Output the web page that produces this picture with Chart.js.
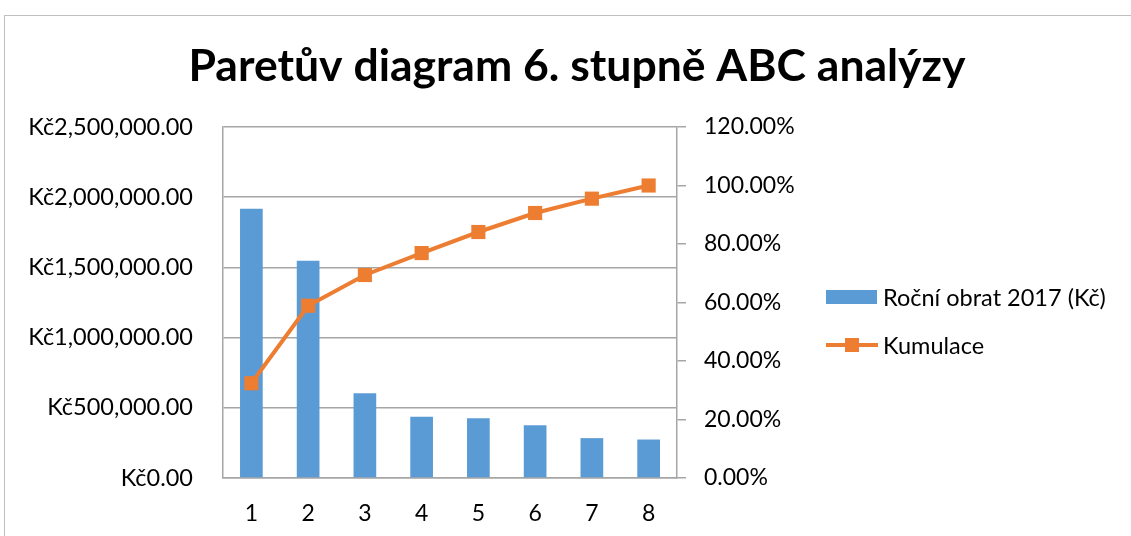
<!DOCTYPE html>
<html>
<head>
<meta charset="utf-8">
<script src="https://cdn.jsdelivr.net/npm/chart.js@4/dist/chart.umd.min.js"></script>
<style>
  html, body { margin: 0; padding: 0; background: #fff; overflow: hidden; }
  #wrap { position: relative; width: 1131px; height: 536px; }
  #frame { position: absolute; left: 4px; top: 15px; width: 1200px; height: 600px; border: 1px solid #bfbfbf; box-sizing: border-box; }
  canvas { position: absolute; left: 0; top: 0; }
</style>
</head>
<body>
<div id="wrap">
  <div id="frame"></div>
  <canvas id="c" width="1131" height="536"></canvas>
</div>
<script>
const chartTitle = 'Paretův diagram 6. stupně ABC analýzy';
const categories = ['1', '2', '3', '4', '5', '6', '7', '8'];
const barLabel = 'Roční obrat 2017 (Kč)';
const barValues = [1917000, 1548000, 603000, 436000, 426000, 376000, 284000, 274000];
const lineLabel = 'Kumulace';
const lineValues = [32.4, 58.9, 69.4, 76.9, 84.1, 90.6, 95.5, 100.0];
const leftTicks = [0, 500000, 1000000, 1500000, 2000000, 2500000];
const rightTicks = [0, 20, 40, 60, 80, 100, 120];

const BLUE = '#5B9BD5';
const ORANGE = '#ED7D31';
const GRID = '#a6a6a6';
const FONT = 'Lato';

function fmtKc(v) {
  const s = Math.round(v).toString().replace(/\B(?=(\d{3})+(?!\d))/g, ',');
  return 'Kč' + s + '.00';
}

const overlay = {
  id: 'overlay',
  afterDraw(chart) {
    const ctx = chart.ctx;
    ctx.save();
    // title
    ctx.fillStyle = '#000';
    ctx.font = 'bold 44.5px ' + FONT;
    ctx.textAlign = 'center';
    ctx.textBaseline = 'alphabetic';
    ctx.fillText(chartTitle, 577, 81);
    // legend
    ctx.font = '23.5px ' + FONT;
    ctx.textAlign = 'left';
    ctx.textBaseline = 'middle';
    ctx.fillStyle = BLUE;
    ctx.fillRect(826, 290, 51, 14);
    ctx.fillStyle = '#000';
    ctx.fillText(chart.data.datasets[1].label, 883, 298);
    ctx.strokeStyle = ORANGE;
    ctx.lineWidth = 4;
    ctx.beginPath();
    ctx.moveTo(826, 345);
    ctx.lineTo(878, 345);
    ctx.stroke();
    ctx.fillStyle = ORANGE;
    ctx.fillRect(845, 338, 14, 14);
    ctx.fillStyle = '#000';
    ctx.fillText(chart.data.datasets[0].label, 883, 346);
    ctx.restore();
  }
};

new Chart(document.getElementById('c'), {
  type: 'bar',
  data: {
    labels: categories,
    datasets: [
      {
        type: 'line',
        label: lineLabel,
        data: lineValues,
        yAxisID: 'y1',
        borderColor: ORANGE,
        backgroundColor: ORANGE,
        borderWidth: 4,
        pointStyle: 'rect',
        pointRadius: 10,
        pointBorderWidth: 0,
        pointBackgroundColor: ORANGE,
        tension: 0,
        order: 0
      },
      {
        type: 'bar',
        label: barLabel,
        data: barValues,
        yAxisID: 'y',
        backgroundColor: BLUE,
        borderWidth: 0,
        categoryPercentage: 1.0,
        barPercentage: 0.4,
        order: 1
      }
    ]
  },
  options: {
    responsive: false,
    animation: false,
    events: [],
    layout: { padding: { left: 0, right: 314, top: 127, bottom: 0 } },
    plugins: { legend: { display: false }, title: { display: false }, tooltip: { enabled: false } },
    scales: {
      x: {
        offset: true,
        grid: { display: false, drawTicks: false },
        border: { display: true, color: GRID, width: 1.5 },
        ticks: { color: '#000', font: { family: FONT, size: 23 }, padding: 22, maxRotation: 0 },
        afterFit(s) { s.height = 58; }
      },
      y: {
        position: 'left',
        min: 0, max: 2500000,
        afterBuildTicks(s) { s.ticks = leftTicks.map(v => ({ value: v })); },
        grid: { color: GRID, lineWidth: 1.5, drawTicks: false },
        border: { display: true, color: GRID, width: 1.5 },
        ticks: { color: '#000', font: { family: FONT, size: 23.5 }, padding: 30, callback: v => fmtKc(v) },
        afterFit(s) { s.width = 223; }
      },
      y1: {
        position: 'right',
        min: 0, max: 120,
        afterBuildTicks(s) { s.ticks = rightTicks.map(v => ({ value: v })); },
        grid: { drawOnChartArea: false, drawTicks: true, tickLength: 9, color: GRID, lineWidth: 1.5 },
        border: { display: true, color: GRID, width: 1.5 },
        ticks: { color: '#000', font: { family: FONT, size: 23 }, padding: 18, callback: v => v.toFixed(2) + '%' },
        afterFit(s) { s.width = 140; }
      }
    }
  },
  plugins: [overlay]
});
</script>
</body>
</html>
